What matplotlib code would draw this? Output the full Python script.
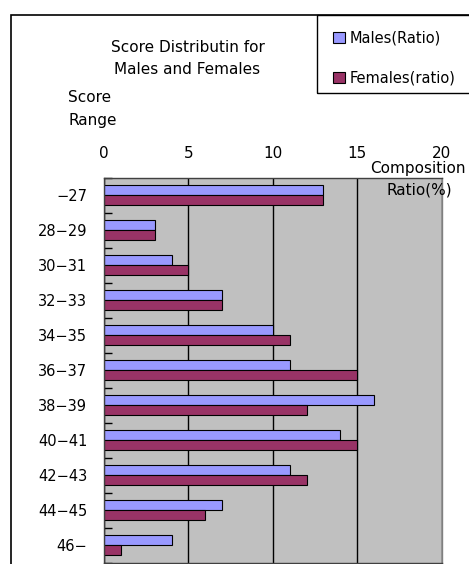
import matplotlib.pyplot as plt
import numpy as np
from matplotlib.patches import Rectangle

# score ranges and composition ratios (%)
ranges = ['−27', '28−29', '30−31', '32−33', '34−35', '36−37',
          '38−39', '40−41', '42−43', '44−45', '46−']
males = [13, 3, 4, 7, 10, 11, 16, 14, 11, 7, 4]
females = [13, 3, 5, 7, 11, 15, 12, 15, 12, 6, 1]
x_ticks = [0, 5, 10, 15, 20]

plt.rcParams['font.family'] = ['DejaVu Sans']
plt.rcParams['font.size'] = 11

W, H = 469, 564
fig = plt.figure(figsize=(W / 100, H / 100), dpi=100)


def fx(px):
    return px / W


def fy(py):
    return 1 - py / H


# outer chart frame (runs off the right and bottom edges)
fig.patches.append(Rectangle((fx(10.5), -0.1), 1.0, fy(15) + 0.1,
                             transform=fig.transFigure, fill=False,
                             ec='black', lw=1.2))

ax = fig.add_axes([fx(104), fy(563), (441.5 - 104) / W, (563 - 177.5) / H])
ax.set_facecolor('#C0C0C0')

pos = np.arange(len(ranges))
bh = 10 / 35
hm = ax.barh(pos - bh / 2, males, height=bh, color='#9999FF',
             edgecolor='black', lw=0.8, label='Males(Ratio)')
hf = ax.barh(pos + bh / 2, females, height=bh, color='#993366',
             edgecolor='black', lw=0.8, label='Females(ratio)')

ax.set_xlim(0, 20)
ax.set_ylim(len(ranges) - 0.5, -0.5)
ax.xaxis.tick_top()
ax.set_xticks(x_ticks)
ax.tick_params(axis='x', length=0, pad=12)
ax.grid(axis='x', color='black', lw=1)
ax.set_axisbelow(True)

ax.set_yticks(pos)
ax.set_yticklabels(ranges, fontsize=10.5)
ax.tick_params(axis='y', which='major', length=0, pad=12)
ax.set_yticks(np.arange(-0.5, len(ranges)), minor=True)
ax.tick_params(axis='y', which='minor', direction='in', length=6,
               width=1, color='black')

for side, c in [('top', '#404040'), ('left', '#404040'),
                ('right', '#808080'), ('bottom', '#404040')]:
    ax.spines[side].set_color(c)
    ax.spines[side].set_linewidth(1)

# titles and axis captions
fig.text(fx(187.5), fy(48), 'Score Distributin for', ha='center', va='center')
fig.text(fx(187.5), fy(70), 'Males and Females', ha='center', va='center')
fig.text(fx(68), fy(98), 'Score', ha='left', va='center')
fig.text(fx(68), fy(120), 'Range', ha='left', va='center')
fig.text(fx(466), fy(169), 'Composition', ha='right', va='center')
fig.text(fx(452), fy(190), 'Ratio(%)', ha='right', va='center')

# legend box
fig.patches.append(Rectangle((fx(316.7), fy(93.3)), 1.0, fy(15) - fy(93.3),
                             transform=fig.transFigure, fill=False,
                             ec='black', lw=1))
fig.legend(handles=[hm, hf], loc='center left',
           bbox_to_anchor=(fx(326), fy(58)), frameon=False, fontsize=10.5,
           handlelength=0.8, handleheight=0.8, handletextpad=0.3,
           labelspacing=1.75, borderpad=0)

fig.savefig('out.png', dpi=100)
